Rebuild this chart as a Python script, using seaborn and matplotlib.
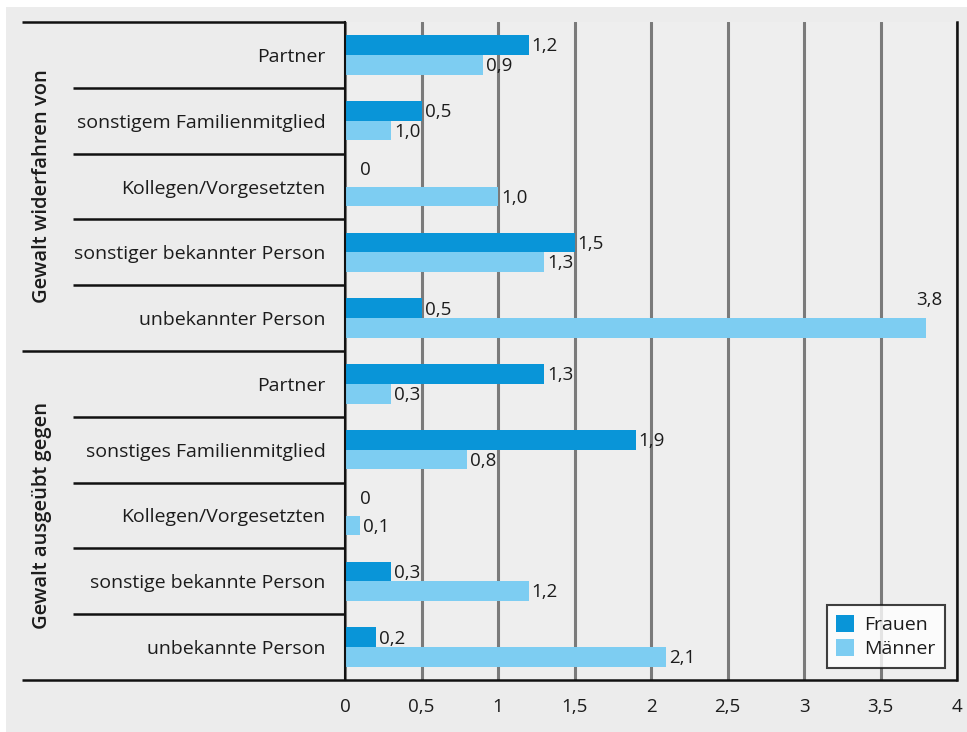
import matplotlib
matplotlib.use("Agg")
import matplotlib.pyplot as plt
import matplotlib.transforms as mtransforms
from matplotlib.patches import Rectangle
import seaborn as sns
import pandas as pd

# ---- data ----
groups = ["Gewalt widerfahren von", "Gewalt ausgeübt gegen"]
categories = [
    "Partner", "sonstigem Familienmitglied", "Kollegen/Vorgesetzten",
    "sonstiger bekannter Person", "unbekannter Person",
    "Partner", "sonstiges Familienmitglied", "Kollegen/Vorgesetzten",
    "sonstige bekannte Person", "unbekannte Person",
]
frauen = [1.2, 0.5, 0.0, 1.5, 0.5, 1.3, 1.9, 0.0, 0.3, 0.2]
maenner = [0.9, 0.3, 1.0, 1.3, 3.8, 0.3, 0.8, 0.1, 1.2, 2.1]
frauen_labels = ["1,2", "0,5", "0", "1,5", "0,5", "1,3", "1,9", "0", "0,3", "0,2"]
maenner_labels = ["0,9", "1,0", "1,0", "1,3", "3,8", "0,3", "0,8", "0,1", "1,2", "2,1"]
series = ["Frauen", "Männer"]
xticks = [0, 0.5, 1, 1.5, 2, 2.5, 3, 3.5, 4]
xtick_labels = ["0", "0,5", "1", "1,5", "2", "2,5", "3", "3,5", "4"]

colors = {"Frauen": "#0995d8", "Männer": "#7dcdf2"}

rows = []
for i, cat in enumerate(categories):
    rows.append({"row": f"r{i}", "Geschlecht": "Frauen", "Wert": frauen[i]})
    rows.append({"row": f"r{i}", "Geschlecht": "Männer", "Wert": maenner[i]})
df = pd.DataFrame(rows)
row_order = [f"r{i}" for i in range(len(categories))]

sns.set_theme(style="white")
plt.rcParams["font.family"] = ["Open Sans", "DejaVu Sans"]
TXT = "#1c1c1c"
FS = 14

fig = plt.figure(figsize=(9.67, 7.32), dpi=100, facecolor="white")
fig.patches.append(Rectangle((6 / 967, 0), 1, 1 - 7 / 732, transform=fig.transFigure,
                             facecolor="#ececec", edgecolor="none", zorder=-10))
ax = fig.add_axes([345 / 967, 1 - 680 / 732, 612 / 967, 658 / 732])
ax.set_facecolor("#eeeeee")

sns.barplot(data=df, y="row", x="Wert", hue="Geschlecht", order=row_order,
            hue_order=series, palette=colors, orient="h", width=0.6,
            saturation=1, linewidth=0, ax=ax, legend=True)

ax.set_xlim(0, 4)
ax.set_ylim(len(categories) - 0.5, -0.5)
ax.set_xticks(xticks)
ax.set_xticklabels(xtick_labels, fontsize=FS - 0.5, color=TXT)
ax.set_yticks(range(len(categories)))
ax.set_yticklabels(categories, fontsize=FS, color=TXT)
ax.tick_params(axis="y", length=0, pad=14)
ax.tick_params(axis="x", length=8, width=1.5, color="#222222", pad=5, direction="out")
ax.set_xlabel("")
ax.set_ylabel("")

ax.grid(axis="x", color="#7a7a7a", linewidth=2.2)
ax.grid(axis="y", visible=False)
ax.set_axisbelow(True)
ax.spines["top"].set_visible(False)
ax.spines["right"].set_color("#111111")
ax.spines["right"].set_linewidth(1.8)
ax.spines["left"].set_color("#111111")
ax.spines["left"].set_linewidth(1.5)
ax.spines["bottom"].set_visible(False)

# separator lines in the label area
trans = mtransforms.blended_transform_factory(ax.transAxes, ax.transData)
n = len(categories)
for b in range(n + 1):
    y = b - 0.5
    if b in (0, 5, n):
        x0 = (22 - 345) / 612
    else:
        x0 = (73 - 345) / 612
    x1 = 1.0 if b == n else 0.0
    ax.plot([x0, x1], [y, y], transform=trans, color="#111111", lw=1.8,
            clip_on=False, solid_capstyle="butt", zorder=5)

# group labels
for g, name in enumerate(groups):
    ax.text((42 - 345) / 612, 2 + 5 * g, name, transform=trans, rotation=90,
            ha="center", va="center", fontsize=FS + 0.5, color=TXT,
            fontweight="semibold")

# value labels
label_sets = [frauen_labels, maenner_labels]
for cont, labels in zip(ax.containers, label_sets):
    for patch, lab in zip(cont.patches, labels):
        w = patch.get_width()
        yc = patch.get_y() + patch.get_height() / 2
        if w > 3.6:
            ax.text(w + 0.02, yc - 0.42, lab, ha="center", va="center",
                    fontsize=FS - 0.5, color=TXT)
        else:
            xpos = w + 0.02 if w > 0 else 0.1
            dy = -0.1 if w == 0 else 0.02
            ax.text(xpos, yc + dy, lab, ha="left", va="center",
                    fontsize=FS - 0.5, color=TXT)

# legend
leg = ax.legend(loc="lower right", bbox_to_anchor=(0.980, 0.018), frameon=True,
                fancybox=False, handlelength=0.9, handleheight=1.0,
                handletextpad=0.5, borderpad=0.5, labelspacing=0.25,
                borderaxespad=0, fontsize=FS)
leg.get_frame().set_edgecolor("#111111")
leg.get_frame().set_linewidth(1.5)
leg.get_frame().set_facecolor("white")
for t in leg.get_texts():
    t.set_color(TXT)

fig.savefig("out.png", dpi=100, facecolor=fig.get_facecolor())
